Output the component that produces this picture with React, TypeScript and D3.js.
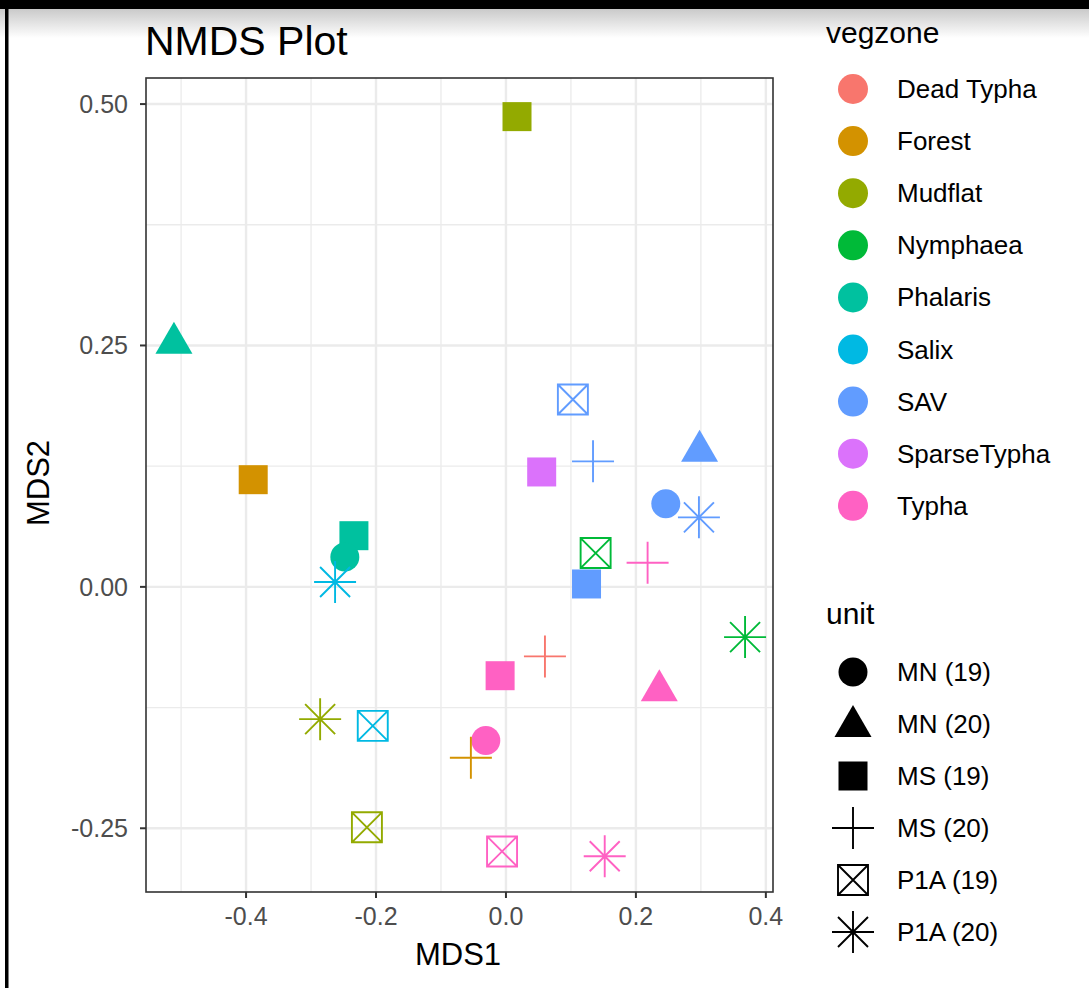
import React from 'react';
import { scaleLinear } from 'd3';

const W = 1089;
const H = 988;

// point data
const mds1 = [0.017, -0.511, -0.389, -0.234, -0.248, -0.263, -0.286, -0.205, -0.214, -0.031, -0.054, -0.009, -0.006, 0.152, 0.060, 0.236, 0.124, 0.138, 0.218, 0.246, 0.297, 0.298, 0.368, 0.055, 0.134, 0.103];
const mds2 = [0.487, 0.255, 0.111, 0.053, 0.031, 0.005, -0.137, -0.144, -0.249, -0.159, -0.177, -0.092, -0.274, -0.279, -0.072, -0.105, 0.003, 0.035, 0.025, 0.086, 0.072, 0.143, -0.052, 0.119, 0.130, 0.194];
const zone = ['Mudflat', 'Phalaris', 'Forest', 'Phalaris', 'Phalaris', 'Salix', 'Mudflat', 'Salix', 'Mudflat', 'Typha', 'Forest', 'Typha', 'Typha', 'Typha', 'Dead Typha', 'Typha', 'SAV', 'Nymphaea', 'Typha', 'SAV', 'SAV', 'SAV', 'Nymphaea', 'SparseTypha', 'SAV', 'SAV'];
const unit = ['MS (19)', 'MN (20)', 'MS (19)', 'MS (19)', 'MN (19)', 'P1A (20)', 'P1A (20)', 'P1A (19)', 'P1A (19)', 'MN (19)', 'MS (20)', 'MS (19)', 'P1A (19)', 'P1A (20)', 'MS (20)', 'MN (20)', 'MS (19)', 'P1A (19)', 'MS (20)', 'MN (19)', 'P1A (20)', 'MN (20)', 'P1A (20)', 'MS (19)', 'MS (20)', 'P1A (19)'];

const zones = ['Dead Typha', 'Forest', 'Mudflat', 'Nymphaea', 'Phalaris', 'Salix', 'SAV', 'SparseTypha', 'Typha'];
const zoneColors = ['#F8766D', '#D39200', '#93AA00', '#00BA38', '#00C19F', '#00B9E3', '#619CFF', '#DB72FB', '#FF61C3'];
const units = ['MN (19)', 'MN (20)', 'MS (19)', 'MS (20)', 'P1A (19)', 'P1A (20)'];
const unitShapes = ['circle', 'triangle', 'square', 'plus', 'boxX', 'asterisk'];

const xTicks = [-0.4, -0.2, 0, 0.2, 0.4];
const yTicks = [-0.25, 0, 0.25, 0.5];
const xMinor = [-0.5, -0.3, -0.1, 0.1, 0.3];
const yMinor = [-0.125, 0.125, 0.375];

const panel = { left: 146, right: 773, top: 78, bottom: 892 };
const x = scaleLinear().domain([-0.554, 0.411]).range([panel.left, panel.right]);
const y = scaleLinear().domain([-0.316, 0.527]).range([panel.bottom, panel.top]);

const font = '"Liberation Sans", Arial, Helvetica, sans-serif';

function Shape({ shape, color, cx, cy }: { shape: string; color: string; cx: number; cy: number }) {
  const t = `translate(${cx},${cy})`;
  const sw = 1.9;
  if (shape === 'circle') return <circle transform={t} r={14.5} fill={color} />;
  if (shape === 'triangle') return <path transform={t} d="M0,-19L18.5,13L-18.5,13Z" fill={color} />;
  if (shape === 'square') return <rect transform={t} x={-14.5} y={-14.5} width={29} height={29} fill={color} />;
  if (shape === 'plus')
    return <path transform={t} d="M-21,0H21M0,-21V21" stroke={color} strokeWidth={sw} fill="none" />;
  if (shape === 'boxX')
    return (
      <path transform={t} d="M-15,-15H15V15H-15ZM-15,-15L15,15M15,-15L-15,15" stroke={color} strokeWidth={sw} fill="none" />
    );
  return (
    <path transform={t} d="M-21,0H21M0,-21V21M-15,-15L15,15M15,-15L-15,15" stroke={color} strokeWidth={sw} fill="none" />
  );
}

export default function App() {
  const color = (z: string) => zoneColors[zones.indexOf(z)];
  const shapeOf = (u: string) => unitShapes[units.indexOf(u)];
  return (
    <div style={{ position: 'absolute', left: 0, top: 0 }}>
      <svg width={W} height={H} style={{ display: 'block', fontFamily: font }}>
        <defs>
          <linearGradient id="shade" x1="0" y1="0" x2="0" y2="1">
            <stop offset="0" stopColor="#c8c8c8" />
            <stop offset="1" stopColor="#ffffff" />
          </linearGradient>
        </defs>
        <rect width={W} height={H} fill="#fff" />
        <rect x={0} y={8} width={W} height={30} fill="url(#shade)" />
        <rect x={0} y={0} width={W} height={9} fill="#000" />
        <rect x={5} y={0} width={3.5} height={H} fill="#000" />

        <text x={145} y={55} fontSize={41} fill="#000">NMDS Plot</text>

        {/* grid */}
        {xMinor.map((v) => (
          <line key={'xm' + v} x1={x(v)} x2={x(v)} y1={panel.top} y2={panel.bottom} stroke="#EBEBEB" strokeWidth={1.3} />
        ))}
        {yMinor.map((v) => (
          <line key={'ym' + v} x1={panel.left} x2={panel.right} y1={y(v)} y2={y(v)} stroke="#EBEBEB" strokeWidth={1.3} />
        ))}
        {xTicks.map((v) => (
          <line key={'xg' + v} x1={x(v)} x2={x(v)} y1={panel.top} y2={panel.bottom} stroke="#EBEBEB" strokeWidth={2.4} />
        ))}
        {yTicks.map((v) => (
          <line key={'yg' + v} x1={panel.left} x2={panel.right} y1={y(v)} y2={y(v)} stroke="#EBEBEB" strokeWidth={2.4} />
        ))}

        {/* points */}
        {mds1.map((v, i) => (
          <Shape key={i} shape={shapeOf(unit[i])} color={color(zone[i])} cx={x(v)} cy={y(mds2[i])} />
        ))}

        <rect x={panel.left} y={panel.top} width={panel.right - panel.left} height={panel.bottom - panel.top} fill="none" stroke="#333" strokeWidth={1.6} />

        {/* axes */}
        {xTicks.map((v) => (
          <g key={'xt' + v}>
            <line x1={x(v)} x2={x(v)} y1={panel.bottom} y2={panel.bottom + 6} stroke="#333" strokeWidth={2} />
            <text x={x(v)} y={925} fontSize={25} fill="#4D4D4D" textAnchor="middle">{v.toFixed(1)}</text>
          </g>
        ))}
        {yTicks.map((v) => (
          <g key={'yt' + v}>
            <line x1={panel.left - 6} x2={panel.left} y1={y(v)} y2={y(v)} stroke="#333" strokeWidth={2} />
            <text x={panel.left - 18} y={y(v) + 9} fontSize={25} fill="#4D4D4D" textAnchor="end">{v.toFixed(2)}</text>
          </g>
        ))}
        <text x={458} y={965} fontSize={31} textAnchor="middle" fill="#000">MDS1</text>
        <text transform={`translate(49,483) rotate(-90)`} fontSize={31} textAnchor="middle" fill="#000">MDS2</text>

        {/* legends */}
        <text x={826} y={43} fontSize={30} fill="#000">vegzone</text>
        {zones.map((z, i) => (
          <g key={z}>
            <circle cx={853} cy={89 + i * 52.1} r={15} fill={zoneColors[i]} />
            <text x={897} y={89 + i * 52.1 + 9} fontSize={26} fill="#000">{z}</text>
          </g>
        ))}
        <text x={826} y={624} fontSize={30} fill="#000">unit</text>
        {units.map((u, i) => (
          <g key={u}>
            <Shape shape={unitShapes[i]} color="#000" cx={853} cy={672 + i * 52} />
            <text x={897} y={672 + i * 52 + 9} fontSize={26} fill="#000">{u}</text>
          </g>
        ))}
      </svg>
    </div>
  );
}
